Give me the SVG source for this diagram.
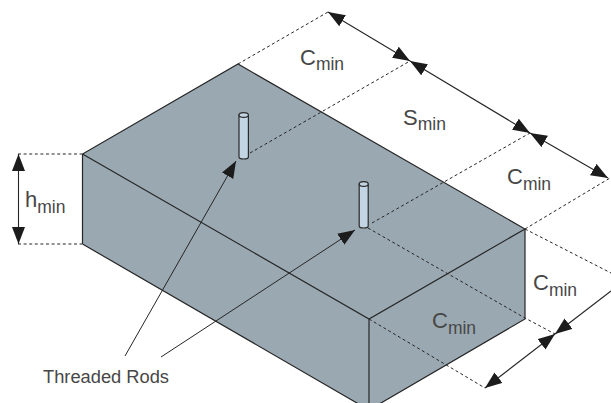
<svg xmlns="http://www.w3.org/2000/svg" width="611" height="403" viewBox="0 0 611 403">
<style>
text{font-family:"Liberation Sans",Arial,sans-serif;fill:#474747;font-size:22px}
.sub{font-size:17.500px}
.edge{stroke:#262626;stroke-width:1.200;fill:none}
.dash{stroke:#262626;stroke-width:1;stroke-dasharray:3 2.600;fill:none}
.dim{stroke:#262626;stroke-width:1.100;fill:none;marker-start:url(#ah);marker-end:url(#ah)}
.lead{stroke:#262626;stroke-width:1;fill:none;marker-end:url(#ah)}
.rod{fill:#c3d5e2;stroke:#2a2a2a;stroke-width:1.200}
</style>
<defs>
<marker id="ah" markerUnits="userSpaceOnUse" markerWidth="20" markerHeight="14" refX="17" refY="7" orient="auto-start-reverse"><path d="M0 0.500L17 7L0 13.500Z" fill="#1c1c1c"/></marker>
</defs>
<rect width="611" height="403" fill="#fff"/>
<g id="block">
<path d="M82.500 154L238 64L525 229V319L369 410L82.500 244Z" fill="#9aa8b1"/>
<path class="edge" d="M82.500 244V154L238 64L525 229V319L369 410L82.500 244M82.500 154L369 319L525 229M369 319V403"/>
</g>
<g id="connectors">
<path class="dash" d="M238 64L328 12M250 153L410 61M372 223L530 133M525 229L610 178M368 228L525 318L555 334M369 319L485 388M525 229L611 273M18 154H82M18 244H82"/>
<path class="dim" d="M328 12L410 61"/>
<path class="dim" d="M410 61L530 133"/>
<path class="dim" d="M530 133L608 178"/>
<path class="dim" d="M485 388L555 334"/>
<path class="edge" style="stroke-width:1.100;marker-start:url(#ah)" d="M555 334L611 291"/>
<path class="dim" d="M18.500 154V244"/>
<path class="lead" d="M125 356L236 161"/>
<path class="lead" d="M161 357L355 230"/>
</g>
<g id="rod-1">
<path class="rod" d="M239 115V157A4.700 2 0 0 0 248.400 157V115Z"/>
<ellipse class="rod" cx="243.700" cy="115" rx="4.700" ry="2.400"/>
</g>
<g id="rod-2">
<path class="rod" d="M359.200 184V226A4.500 2 0 0 0 368.200 226V184Z"/>
<ellipse class="rod" cx="363.700" cy="184" rx="4.500" ry="2.400"/>
</g>
<g id="labels">
<text x="300" y="65">C<tspan class="sub" dy="5">min</tspan></text>
<text x="403" y="125">S<tspan class="sub" dy="5">min</tspan></text>
<text x="507" y="184">C<tspan class="sub" dy="6">min</tspan></text>
<text x="533" y="290">C<tspan class="sub" dy="6">min</tspan></text>
<text x="432" y="328">C<tspan class="sub" dy="6">min</tspan></text>
<text x="25" y="207">h<tspan class="sub" dy="6">min</tspan></text>
<text x="43" y="383" style="font-size:18.300px">Threaded Rods</text>
</g>
</svg>
